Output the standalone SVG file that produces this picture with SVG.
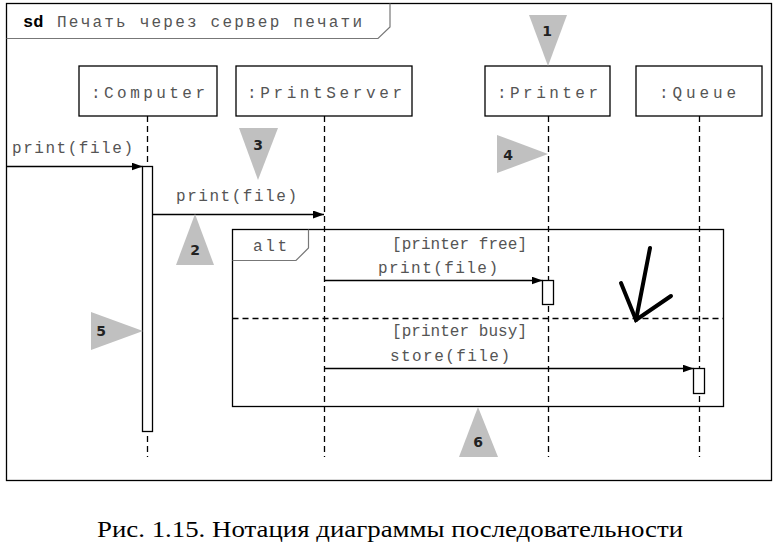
<svg xmlns="http://www.w3.org/2000/svg" width="777" height="550" viewBox="0 0 777 550">
<defs>
<style>
.ln{stroke:#000;stroke-width:1.3;fill:none}
.box{fill:#fff;stroke:#000;stroke-width:1.3}
.ll{stroke:#000;stroke-width:1.3;stroke-dasharray:6,4;fill:none}
.t{font-family:"Liberation Mono","Courier New",monospace;font-size:16px;fill:#555}
.num{font-family:"DejaVu Sans","Liberation Sans",sans-serif;font-size:14px;font-weight:bold;fill:#222;text-anchor:middle}
.tri{fill:#c0c0c0}
.msg{stroke:#000;stroke-width:1.3;fill:none;marker-end:url(#ah)}
</style>
<marker id="ah" markerWidth="12" markerHeight="8" refX="11" refY="4" orient="auto" markerUnits="userSpaceOnUse">
<path d="M0,0 L11,4 L0,8 Z" fill="#000"/>
</marker>
</defs>
<rect x="0" y="0" width="777" height="550" fill="#fff"/>
<g id="frame">
<rect x="6.5" y="3.5" width="765" height="477" class="ln" stroke-width="1.5"/>
<path d="M6.5,38.5 H378 L390,27 V3.5" fill="none" stroke="#777" stroke-width="1.2"/>
<text x="23" y="27" font-family="Liberation Mono,monospace" font-size="17" font-weight="bold" fill="#000">sd</text>
<text x="57" y="27" class="t" textLength="305" lengthAdjust="spacing">Печать через сервер печати</text>
</g>
<g id="lifelines">
<line x1="147.5" y1="116" x2="147.5" y2="457" class="ll"/>
<line x1="324.5" y1="116" x2="324.5" y2="457" class="ll"/>
<line x1="548.5" y1="116" x2="548.5" y2="457" class="ll"/>
<line x1="699.5" y1="116" x2="699.5" y2="457" class="ll"/>
</g>
<g id="computer">
<rect x="79" y="66" width="138" height="50" class="box"/>
<text x="91" y="98" class="t" textLength="114" lengthAdjust="spacing">:Computer</text>
</g>
<g id="printserver">
<rect x="236" y="66" width="176" height="50" class="box"/>
<text x="247" y="98" class="t" textLength="155" lengthAdjust="spacing">:PrintServer</text>
</g>
<g id="printer">
<rect x="485" y="66" width="125" height="50" class="box"/>
<text x="497" y="98" class="t" textLength="101" lengthAdjust="spacing">:Printer</text>
</g>
<g id="queue">
<rect x="636" y="66" width="126" height="50" class="box"/>
<text x="659" y="98" class="t" textLength="77" lengthAdjust="spacing">:Queue</text>
</g>
<g id="alt">
<rect x="232.5" y="229.5" width="491" height="177" class="ln"/>
<path d="M232.5,260.5 H296 L308.5,248 V229.5" fill="none" stroke="#777" stroke-width="1.2"/>
<text x="253" y="251" class="t" textLength="34" lengthAdjust="spacing">alt</text>
<line x1="232.5" y1="318.5" x2="723.5" y2="318.5" class="ll"/>
<text x="392" y="249" class="t" textLength="135" lengthAdjust="spacing">[printer free]</text>
<text x="392" y="336" class="t" textLength="135" lengthAdjust="spacing">[printer busy]</text>
</g>
<g id="activations">
<rect x="142.5" y="166.5" width="10" height="265" class="box"/>
<rect x="542.5" y="280.5" width="11" height="24" class="box"/>
<rect x="693.5" y="368.5" width="11" height="25" class="box"/>
</g>
<g id="connectors">
<line x1="6.5" y1="166.5" x2="142.5" y2="166.5" class="msg"/>
<text x="12" y="153" class="t" textLength="121" lengthAdjust="spacing">print(file)</text>
<line x1="152.5" y1="214.5" x2="324" y2="214.5" class="msg"/>
<text x="176" y="201" class="t" textLength="121" lengthAdjust="spacing">print(file)</text>
<line x1="324.5" y1="280.5" x2="542.5" y2="280.5" class="msg"/>
<text x="378" y="273" class="t" textLength="120" lengthAdjust="spacing">print(file)</text>
<line x1="324.5" y1="368.5" x2="693.5" y2="368.5" class="msg"/>
<text x="390" y="361" class="t" textLength="120" lengthAdjust="spacing">store(file)</text>
</g>
<g id="markers">
<polygon points="529,15 567,15 548,66" class="tri"/>
<text x="547" y="36" class="num">1</text>
<polygon points="195,214 176,265 214,265" class="tri"/>
<text x="195" y="255" class="num">2</text>
<polygon points="239,128 278,128 258,180" class="tri"/>
<text x="258" y="150" class="num">3</text>
<polygon points="497,135 548,154 497,173" class="tri"/>
<text x="508" y="160" class="num">4</text>
<polygon points="91,312 143,331 91,350" class="tri"/>
<text x="101" y="336" class="num">5</text>
<polygon points="478,407 459,457 498,457" class="tri"/>
<text x="478" y="447" class="num">6</text>
</g>
<g id="handarrow" stroke="#000" stroke-width="4" stroke-linecap="round" fill="none">
<path d="M650,248 L636,320"/>
<path d="M621,283 L636,320 L671,296"/>
</g>
<text x="97" y="537" font-family="Liberation Serif,Times New Roman,serif" font-size="24" fill="#000" textLength="586" lengthAdjust="spacingAndGlyphs">Рис. 1.15. Нотация диаграммы последовательности</text>
</svg>
